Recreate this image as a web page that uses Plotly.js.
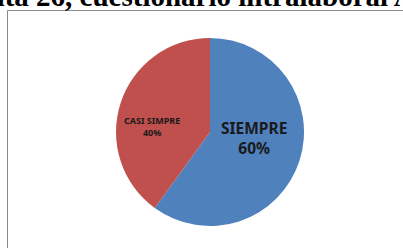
<!DOCTYPE html>
<html>
<head>
<meta charset="utf-8">
<script src="https://cdn.plot.ly/plotly-3.0.1.min.js"></script>
<style>html,body{margin:0;padding:0;background:#fff;}#chart{width:403px;height:248px;}</style>
</head>
<body>
<div id="chart"></div>
<script>
const categories = ["SIEMPRE", "CASI SIMPRE"];
const values = [60, 40];
const colors = ["#4F81BD", "#C0504D"];
const titleText = "Pregunta 26, cuestionario intralaboral A";

const W = 403, H = 248;
const px = x => x / W;
const py = y => 1 - y / H;

const total = values.reduce((a, b) => a + b, 0);
const labelPos = [{x: 254, y: 138, size: 15.5}, {x: 152, y: 126, size: 9}];

const annotations = [{
  text: "<b>" + titleText + "</b>",
  xref: "paper", yref: "paper",
  x: px(-87), y: py(14), xanchor: "left", yanchor: "bottom",
  showarrow: false,
  font: {family: "Liberation Serif", size: 29, color: "#000"}
}];
categories.forEach((c, i) => {
  annotations.push({
    text: "<b>" + c + "<br>" + Math.round(values[i] / total * 100) + "%</b>",
    xref: "paper", yref: "paper",
    x: px(labelPos[i].x), y: py(labelPos[i].y),
    xanchor: "center", yanchor: "middle",
    showarrow: false,
    font: {family: "Noto Sans", size: labelPos[i].size, color: "#1a1a1a"}
  });
});

const data = [{
  type: "pie",
  labels: categories,
  values: values,
  marker: {colors: colors, line: {width: 0}},
  sort: false,
  direction: "clockwise",
  rotation: 0,
  textinfo: "none",
  hoverinfo: "label+percent",
  domain: {x: [px(116), px(304)], y: [py(226), py(38)]}
}];

const layout = {
  width: W, height: H,
  margin: {l: 0, r: 0, t: 0, b: 0},
  paper_bgcolor: "#fff",
  showlegend: false,
  annotations: annotations,
  shapes: [{
    type: "rect", xref: "paper", yref: "paper",
    x0: px(7.5), x1: 1.05, y0: -0.05, y1: py(10.5),
    line: {color: "#898989", width: 1}, fillcolor: "rgba(0,0,0,0)", layer: "below"
  }]
};

Plotly.newPlot("chart", data, layout, {staticPlot: true, displayModeBar: false});
</script>
</body>
</html>
